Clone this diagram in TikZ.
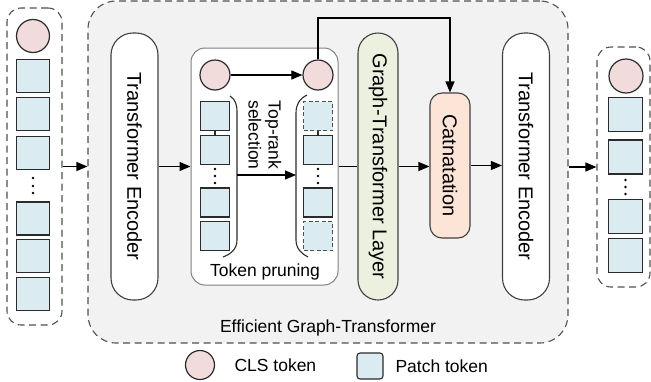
\documentclass[tikz,border=0pt]{standalone}
\usepackage{fontspec}
\setmainfont{Liberation Sans}
\usetikzlibrary{arrows.meta}
\definecolor{dashc}{HTML}{505050}
\definecolor{mainfill}{HTML}{F2F2F2}
\definecolor{tokc}{HTML}{2B2B2B}
\definecolor{clsfill}{HTML}{F2DBDB}
\definecolor{patchfill}{HTML}{DAEBF2}
\definecolor{gtfill}{HTML}{EBF1DE}
\definecolor{catfill}{HTML}{FCE5D7}
\definecolor{edgec}{HTML}{404040}
\definecolor{prunec}{HTML}{808080}
\begin{document}
\begin{tikzpicture}[x=1pt,y=-1pt,
  dashbox/.style={draw=dashc, line width=1.1pt, dash pattern=on 7pt off 4.5pt},
  block/.style={draw=edgec, line width=1.1pt, inner sep=0pt},
  encoder/.style={block, fill=white, rounded corners=22pt, minimum width=47pt, minimum height=267pt},
  cls/.style={circle, draw=tokc, fill=clsfill, line width=1.2pt, inner sep=0pt, minimum size=30pt},
  patch/.style={rectangle, draw=tokc, fill=patchfill, line width=1.4pt, inner sep=0pt, minimum size=29pt},
  bigpatch/.style={patch, minimum size=33pt},
  ghost/.style={patch, draw=dashc, line width=1.2pt, dash pattern=on 4pt off 2.5pt},
  dotn/.style={circle, fill=black, inner sep=0pt, minimum size=2.8pt},
  boxlabel/.style={font=\fontsize{20}{24}\selectfont, rotate=-90},
  txt/.style={font=\fontsize{17.5}{20}\selectfont},
  arr/.style={-{Triangle[length=11pt,width=9pt]}, line width=1.1pt},
  plain/.style={line width=1.1pt},
  bracket/.style={draw=tokc, line width=1.1pt}
]
\useasboundingbox (0,0) rectangle (651,381);

% outer frame of the efficient graph-transformer
\node[dashbox, fill=mainfill, rounded corners=28pt, minimum width=480pt, minimum height=342pt] (main) at (328,172) {};
\node[txt] (mainlbl) at (328,328) {Efficient Graph-Transformer};

% input token sequence
\node[dashbox, rounded corners=14pt, minimum width=55pt, minimum height=317pt] (inbox) at (34.5,166.5) {};
\node[cls, minimum size=33pt] (in0) at (33,36) {};
\node[bigpatch] (in1) at (33,76) {};
\node[bigpatch] (in2) at (33,114) {};
\node[bigpatch] (in3) at (33,153) {};
\node[dotn] (ind1) at (33,178) {};
\node[dotn] (ind2) at (33,186) {};
\node[dotn] (ind3) at (33,193) {};
\node[bigpatch] (in4) at (33,218.5) {};
\node[bigpatch] (in5) at (33,256) {};
\node[bigpatch] (in6) at (33,294) {};

% first transformer encoder
\node[encoder] (te1) at (134.5,166.5) {};
\node[boxlabel] at (te1.center) {Transformer Encoder};

% token pruning block
\node[draw=prunec, line width=1pt, fill=white, rounded corners=14pt, minimum width=147pt, minimum height=237pt] (prune) at (264.5,166.5) {};
\node[txt] (prunelbl) at (265,272) {Token pruning};

\node[cls] (lc) at (215,75) {};
\node[cls] (rc) at (318,75) {};

\node[patch] (l1) at (215,116) {};
\node[patch] (l2) at (215,150) {};
\node[dotn] (ld1) at (215,169) {};
\node[dotn] (ld2) at (215,176) {};
\node[dotn] (ld3) at (215,183) {};
\node[patch] (l3) at (215,202.5) {};
\node[patch] (l4) at (215,236) {};
\draw[line width=1.1pt, tokc] (l1.south) -- (l2.north);

\node[ghost] (r1) at (318,116) {};
\node[patch] (r2) at (318,150) {};
\node[dotn] (rd1) at (318,169) {};
\node[dotn] (rd2) at (318,176) {};
\node[dotn] (rd3) at (318,183) {};
\node[patch] (r3) at (318,202.5) {};
\node[ghost] (r4) at (318,236) {};
\draw[line width=1.1pt, tokc] (r1.south) -- (r2.north);

% brackets around the two token columns
\draw[bracket] (230,96) .. controls (236,100) and (237,105) .. (237,113) -- (237,240) .. controls (237,249) and (231,254) .. (223,257);
\draw[bracket] (307,95) .. controls (299,99) and (296,105) .. (296,113) -- (296,240) .. controls (296,249) and (302,254) .. (308,257);
\coordinate (lb) at (237,175);
\coordinate (rb) at (296,175);
\draw[arr] (lb) -- (rb);
\node[txt, rotate=-90, align=center] (sel) at (265,135) {Top-rank\\selection};
\draw[arr] (lc) -- (rc);

% graph-transformer layer, concatenation, second encoder
\node[block, fill=gtfill, rounded corners=20pt, minimum width=40pt, minimum height=267pt] (gt) at (378,166.5) {};
\node[boxlabel] at (gt.center) {Graph-Transformer Layer};

\node[block, fill=catfill, rounded corners=12pt, minimum width=40pt, minimum height=145pt] (cat) at (450,165.5) {};
\node[boxlabel] at (cat.center) {Catnatation};

\node[encoder] (te2) at (526,166.5) {};
\node[boxlabel] at (te2.center) {Transformer Encoder};

% output token sequence
\node[dashbox, rounded corners=14pt, minimum width=53pt, minimum height=240pt] (outbox) at (623.5,167) {};
\node[cls, minimum size=34pt] (out0) at (626,76) {};
\node[bigpatch, minimum size=34pt] (out1) at (625.5,114.5) {};
\node[bigpatch, minimum size=34pt] (out2) at (625.5,157) {};
\node[dotn] (outd1) at (625.5,180) {};
\node[dotn] (outd2) at (625.5,187) {};
\node[dotn] (outd3) at (625.5,194) {};
\node[bigpatch, minimum size=34pt] (out3) at (625.5,216.5) {};
\node[bigpatch, minimum size=34pt] (out4) at (625.5,255.5) {};

% connectors
\draw[arr] (inbox.east) -- (inbox.east -| main.west);
\draw[arr] (te1.east) -- (prune.west);
\draw[plain] (prune.east) -- (gt.west);
\draw[arr] (gt.east) -- (gt.east -| cat.west);
\draw[arr] (cat.east) -- (cat.east -| te2.west);
\draw[arr] (main.east |- outbox.west) -- (outbox.west);
\coordinate (skip) at (0,18);
\draw[arr] (rc.north) -- (rc.north |- skip) -| (cat.north);

% legend
\node[cls, minimum size=29pt] (lgc) at (200,365) {};
\node[txt, anchor=west] (lgct) at (231,365) {CLS token};
\node[patch, line width=1.1pt, rounded corners=3pt, minimum size=26pt] (lgp) at (370,366) {};
\node[txt, anchor=west] (lgpt) at (392,366) {Patch token};
\end{tikzpicture}
\end{document}
